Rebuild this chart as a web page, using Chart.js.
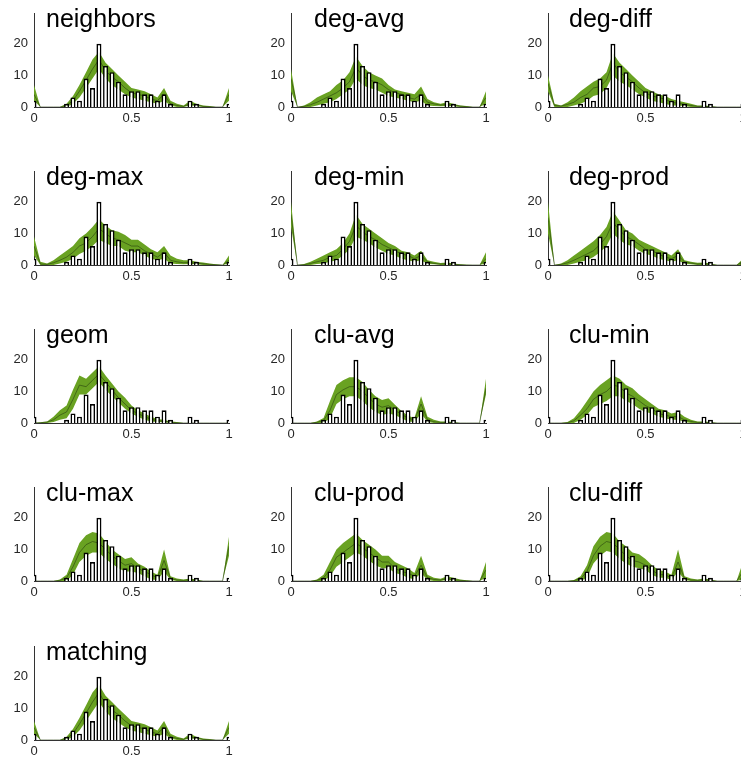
<!DOCTYPE html>
<html>
<head>
<meta charset="utf-8">
<script src="https://cdn.jsdelivr.net/npm/chart.js@4"></script>
<style>
html, body { margin: 0; padding: 0; background: #fff; overflow: hidden; width: 741px; height: 761px; }
canvas { position: absolute; }
</style>
</head>
<body>
<script>
// shared histogram (bin centres and counts)
const binCenters = [0, 0.033, 0.067, 0.1, 0.133, 0.167, 0.2, 0.233, 0.267, 0.3, 0.333, 0.367, 0.4, 0.433, 0.467, 0.5,
  0.533, 0.567, 0.6, 0.633, 0.667, 0.7, 0.733, 0.767, 0.8, 0.833, 0.867, 0.9, 0.933, 0.967, 1];
const counts = [2, 0, 0, 0, 0, 1, 3, 2, 9, 6, 20, 13, 11, 8, 4, 5, 5, 4, 4, 2, 4, 1, 0, 0, 2, 1, 0, 0, 0, 0, 1];
const xTicks = [0, 0.5, 1];
const yTicks = [0, 10, 20];

const panelNames = ['neighbors', 'deg-avg', 'deg-diff', 'deg-max', 'deg-min', 'deg-prod', 'geom',
  'clu-avg', 'clu-min', 'clu-max', 'clu-prod', 'clu-diff', 'matching'];

// model bands: low / mean / high at each bin centre
const neighborsLow  = [2, 0, 0, 0, 0, 0, 1, 3, 6, 9, 12, 9, 7, 5.5, 4, 3, 2.5, 2, 1.5, 1, 2, 0.5, 0, 0, 0.5, 0.3, 0, 0, 0, 0, 2];
const neighborsMean = [4, 0, 0, 0, 0, 0.5, 2, 5, 8.5, 12, 15, 11.5, 9.5, 8, 6, 4.5, 4, 3.5, 2.5, 2, 4, 1, 0.5, 0.2, 1, 0.6, 0.2, 0.1, 0, 0, 4];
const neighborsHigh = [7, 0, 0, 0, 0, 1, 3.5, 7, 11, 15, 17.5, 14, 12, 10, 8, 6, 5.5, 5, 4, 3, 6, 2, 1, 0.5, 2, 1, 0.5, 0.3, 0, 0, 6];

const degAvgLow  = [5, 0, 0, 0, 0.5, 1, 1.5, 2.5, 4, 5.5, 9, 7, 6, 5.5, 4.5, 3.5, 3, 2.5, 2, 1.5, 2, 0.5, 0.3, 0.2, 0.3, 0.2, 0, 0, 0, 0, 1];
const degAvgMean = [9, 0, 0.2, 0.7, 1.5, 2.5, 3.5, 4.5, 6, 8, 12.5, 10, 8.5, 8, 7, 5.5, 4.5, 4, 3, 2.5, 4, 1.5, 1, 0.6, 0.8, 0.5, 0.3, 0.1, 0, 0, 3];
const degAvgHigh = [12, 0, 0.5, 1.5, 3, 4, 5, 7, 8.5, 11, 16, 13, 11, 10, 9, 7, 5.5, 5, 4.5, 4, 6.5, 2.5, 1.5, 1, 1.5, 1, 0.5, 0.3, 0, 0, 5];

const degDiffLow  = [5, 0, 0, 0, 0.5, 1, 2, 3.5, 4, 6, 10, 8, 7, 5.5, 4, 3, 2, 1.5, 1, 0.5, 0.5, 0.3, 0, 0, 0, 0, 0, 0, 0, 0, 0];
const degDiffMean = [7.5, 0.5, 0.3, 0.8, 1.5, 3, 4, 6, 6.5, 8.5, 14, 11, 9.5, 8, 6, 4.5, 3.5, 3, 2.5, 1.5, 1.2, 0.8, 0.5, 0.2, 0.2, 0.1, 0, 0, 0, 0, 0];
const degDiffHigh = [10, 1, 0.5, 1.5, 3, 5, 6.5, 8, 9, 11, 17, 14, 12, 10, 8, 6, 5, 4, 3.5, 2.5, 2, 1.5, 1, 0.5, 0.5, 0.3, 0, 0, 0, 0, 0];

const degMaxLow  = [3, 0, 0, 0, 0.5, 1, 2, 3.5, 4.5, 6, 8, 7, 6, 6, 4.5, 4, 4, 3, 2, 1.5, 2, 0.5, 0.3, 0.2, 0.3, 0.2, 0, 0, 0, 0, 0.5];
const degMaxMean = [6, 0.3, 0.2, 0.7, 1.5, 2.5, 4, 6, 7, 9, 11.5, 10, 8.5, 8, 7, 6, 6, 4.5, 3.5, 2.5, 4, 1.5, 1, 0.7, 0.8, 0.5, 0.4, 0.2, 0.1, 0, 1.5];
const degMaxHigh = [9, 1, 0.5, 1.5, 3, 4.5, 6, 8.5, 10, 12, 14.5, 12.5, 11, 10.5, 9.5, 8, 8, 6.5, 5, 4, 6, 3, 2, 1.5, 1.5, 1, 0.8, 0.5, 0.2, 0, 3];

const degMinLow  = [12, 0, 0, 0, 0.3, 0.5, 1, 1.5, 3, 5, 9, 8, 7, 5.5, 4.5, 3.5, 3, 2, 1.5, 1, 1.5, 0.3, 0.2, 0, 0, 0, 0, 0, 0, 0, 0.5];
const degMinMean = [16, 0, 0.1, 0.5, 1, 1.5, 2.5, 3, 5, 7.5, 12.5, 10.5, 9, 8, 6.5, 5.5, 4.5, 3.5, 3, 2, 3, 1, 0.5, 0.3, 0.4, 0.2, 0.1, 0, 0, 0, 2];
const degMinHigh = [20, 0, 0.3, 1, 2, 3, 4, 5, 7, 10, 16, 13, 11.5, 10, 8.5, 7, 6, 4.5, 4, 3, 4.5, 1.5, 1, 0.6, 0.8, 0.5, 0.2, 0.1, 0, 0, 4];

const degProdLow  = [10, 0, 0, 0, 0.5, 1, 1.5, 2.5, 4, 6, 10, 8, 6.5, 6, 4.5, 3.5, 3, 2, 1.5, 1, 1.5, 0.3, 0.2, 0, 0, 0, 0, 0, 0, 0, 0];
const degProdMean = [15, 0, 0.2, 0.7, 1.5, 2.5, 3.5, 4.5, 6.5, 9, 13.5, 11, 9, 8, 6.5, 5, 4.5, 3.5, 2.5, 2, 3, 1, 0.6, 0.3, 0.4, 0.2, 0, 0, 0, 0, 1];
const degProdHigh = [20, 0, 0.5, 1.5, 3, 4.5, 6, 7.5, 9.5, 12, 17, 14, 11, 10, 8, 7, 6, 5, 4, 3, 5, 1.5, 1, 0.7, 0.8, 0.5, 0, 0, 0, 0, 2];

const geomLow  = [0, 0, 0, 0.3, 1, 1.5, 4.5, 9, 9, 11, 13, 10.5, 8.5, 6.5, 4.5, 3, 2, 1, 0.5, 0.3, 0.2, 0, 0, 0, 0, 0, 0, 0, 0, 0, 0];
const geomMean = [0, 0.1, 0.3, 1, 2.5, 3.5, 7.5, 12, 11.5, 13.5, 15.5, 13, 10.5, 8, 6, 4, 3, 2, 1.2, 0.8, 0.5, 0.3, 0.1, 0, 0, 0, 0, 0, 0, 0, 0];
const geomHigh = [0, 0.2, 0.5, 2, 4, 5.5, 10.5, 15, 14, 16, 18, 15, 12.5, 10, 8, 5.5, 4, 3, 2, 1.3, 1, 0.5, 0.3, 0, 0, 0, 0, 0, 0, 0, 0];

const cluAvgLow  = [0, 0, 0, 0, 0, 0, 1.5, 6, 7.5, 8.5, 8.5, 7, 5, 3.5, 2.5, 3, 2.5, 1.5, 0.5, 0.3, 3, 0.3, 0, 0, 0, 0, 0, 0, 0, 0, 9];
const cluAvgMean = [0, 0, 0, 0, 0.2, 0.8, 4, 9, 10.5, 11.5, 11.5, 10, 8, 6, 5, 5.5, 4, 2.8, 1.5, 1, 6, 1, 0.4, 0.2, 0.2, 0.1, 0, 0, 0, 0, 11];
const cluAvgHigh = [0, 0, 0, 0, 0.5, 1.6, 7, 12, 13.5, 14.5, 14.5, 13, 10.5, 8.5, 7.3, 7.8, 5.8, 3.8, 2.3, 1.6, 8.5, 2, 1, 0.5, 0.5, 0.3, 0, 0, 0, 0, 14];

const cluMinLow  = [0, 0, 0, 0, 0, 1, 2.5, 5, 6, 7, 8.5, 8.5, 7, 6, 4.5, 3.5, 3, 2, 1.5, 1, 1, 0.3, 0, 0, 0, 0, 0, 0, 0, 0, 0];
const cluMinMean = [0, 0, 0, 0.1, 0.7, 2.5, 4.5, 7.5, 9, 10, 12, 11.5, 9.5, 8.5, 7, 5.5, 4.5, 3, 2.5, 2, 2, 1, 0.5, 0.2, 0.2, 0.1, 0, 0, 0, 0, 0];
const cluMinHigh = [0, 0, 0, 0.3, 1.5, 4, 7, 10, 12, 13.5, 15, 14, 12, 11, 9, 7.5, 6, 4.5, 4, 3, 3.5, 2, 1, 0.5, 0.5, 0.3, 0, 0, 0, 0, 0];

const cluMaxLow  = [0, 0, 0, 0, 0, 0, 2, 6, 8, 9, 9, 7, 5.5, 4, 3, 3, 2.5, 1.5, 0.5, 0.3, 3, 0.3, 0, 0, 0, 0, 0, 0, 0, 0, 8];
const cluMaxMean = [0, 0, 0, 0, 0.2, 1, 4.5, 9, 11.5, 12.5, 12, 10, 8, 6.5, 5, 5.5, 4, 3, 2, 1, 6.5, 0.8, 0.3, 0.2, 0.4, 0.2, 0, 0, 0, 0, 11];
const cluMaxHigh = [0, 0, 0, 0, 0.5, 2, 7, 12, 14.5, 15.5, 15, 12.5, 10, 8.5, 7, 7.5, 5.5, 4.5, 3, 2, 10, 1.5, 0.8, 0.5, 0.8, 0.5, 0, 0, 0, 0, 14];

const cluProdLow  = [0, 0, 0, 0, 0, 0, 1.5, 4.5, 6, 7.5, 9, 8, 6.5, 5, 4, 4, 2.5, 2, 1, 0.5, 2.5, 0.3, 0, 0, 0.3, 0, 0, 0, 0, 0, 1];
const cluProdMean = [0, 0, 0, 0, 0.2, 1, 3.5, 7.5, 9, 10.5, 12, 10.5, 9, 7.5, 6, 6, 4, 3, 2.5, 1.5, 5, 1, 0.5, 0.3, 0.8, 0.4, 0.2, 0.1, 0, 0, 3.5];
const cluProdHigh = [0, 0, 0, 0, 0.5, 2, 6, 10, 12, 13.5, 15, 13, 11.5, 10, 8, 8, 6, 5, 4, 2.5, 8, 2, 1, 0.7, 1.5, 1, 0.5, 0.2, 0, 0, 6];

const cluDiffLow  = [0, 0, 0, 0, 0, 0, 1, 5.5, 8, 9.5, 9, 7, 5.5, 4.5, 4, 3.5, 2, 1, 1, 0.3, 3, 0.3, 0, 0, 0, 0, 0, 0, 0, 0, 0.5];
const cluDiffMean = [0, 0, 0, 0, 0.1, 0.7, 3, 8, 11, 12.5, 12, 10, 8, 6.5, 6, 5, 3.5, 2, 2, 1, 6, 0.8, 0.3, 0.2, 0.4, 0.2, 0, 0, 0, 0, 3];
const cluDiffHigh = [0, 0, 0, 0, 0.3, 1.5, 5, 11, 14, 15.5, 15, 12.5, 11, 9, 8.5, 7, 5, 3.5, 3, 2, 10, 1.5, 0.8, 0.5, 0.8, 0.5, 0, 0, 0, 0, 6];

const matchingLow  = [2, 0, 0, 0, 0, 0, 1, 3, 6, 9, 12, 9, 7, 5.5, 4, 3, 2.5, 2, 1.5, 1, 2, 0.5, 0, 0, 0.5, 0.3, 0, 0, 0, 0, 2];
const matchingMean = [4, 0, 0, 0, 0, 0.5, 2, 5, 8.5, 12, 15, 11.5, 9.5, 8, 6, 4.5, 4, 3.5, 2.5, 2, 4, 1, 0.5, 0.2, 1, 0.6, 0.2, 0.1, 0, 0, 4];
const matchingHigh = [6, 0, 0, 0, 0, 1, 3.5, 7, 11, 15, 17.5, 14, 12, 10, 8, 6, 5.5, 5, 4, 3, 6, 2, 1, 0.5, 2, 1, 0.5, 0.3, 0, 0, 6];

const bands = [
  [neighborsLow, neighborsMean, neighborsHigh],
  [degAvgLow, degAvgMean, degAvgHigh],
  [degDiffLow, degDiffMean, degDiffHigh],
  [degMaxLow, degMaxMean, degMaxHigh],
  [degMinLow, degMinMean, degMinHigh],
  [degProdLow, degProdMean, degProdHigh],
  [geomLow, geomMean, geomHigh],
  [cluAvgLow, cluAvgMean, cluAvgHigh],
  [cluMinLow, cluMinMean, cluMinHigh],
  [cluMaxLow, cluMaxMean, cluMaxHigh],
  [cluProdLow, cluProdMean, cluProdHigh],
  [cluDiffLow, cluDiffMean, cluDiffHigh],
  [matchingLow, matchingMean, matchingHigh]
];

// grid layout
const colLeft = [34, 291, 548];
const rowZero = [107, 265, 423, 581, 740];
const titleDx = [12, 23, 21];

const green = '#69a222';
const meanColor = 'rgba(40,65,15,0.75)';
const labelFont = { family: '"Liberation Sans", Arial, sans-serif', size: 13 };

const panelTitle = {
  id: 'panelTitle',
  afterDraw(chart, args, opts) {
    const { ctx, chartArea } = chart;
    ctx.save();
    ctx.font = '25px "Liberation Sans", Arial, sans-serif';
    ctx.fillStyle = '#000';
    ctx.textBaseline = 'alphabetic';
    ctx.fillText(opts.text, chartArea.left + opts.dx, chartArea.bottom - 80);
    ctx.restore();
  }
};

function pts(values) {
  return binCenters.map((x, i) => ({ x: x, y: values[i] }));
}

panelNames.forEach((name, i) => {
  const col = i % 3;
  const row = Math.floor(i / 3);
  const canvas = document.createElement('canvas');
  canvas.width = 240;
  canvas.height = 134;
  canvas.style.left = (colLeft[col] - 34) + 'px';
  canvas.style.top = (rowZero[row] - 107) + 'px';
  canvas.style.width = '240px';
  canvas.style.height = '134px';
  document.body.appendChild(canvas);

  const [low, mean, high] = bands[i];

  new Chart(canvas.getContext('2d'), {
    type: 'bar',
    data: {
      datasets: [
        { type: 'line', data: pts(low), borderColor: 'rgba(0,0,0,0)', borderWidth: 0, pointRadius: 0, fill: false, order: 3 },
        { type: 'line', data: pts(high), borderColor: 'rgba(0,0,0,0)', borderWidth: 0, pointRadius: 0, fill: '-1', backgroundColor: green, order: 2 },
        { type: 'line', data: pts(mean), borderColor: meanColor, borderWidth: 0.8, pointRadius: 0, fill: false, order: 1 },
        { type: 'bar', data: pts(counts), backgroundColor: '#fff', borderColor: '#000', borderWidth: 1.6,
          barPercentage: 0.78, categoryPercentage: 1, order: 0 }
      ]
    },
    options: {
      responsive: false,
      animation: false,
      layout: { padding: { top: 12, right: 11, bottom: 3, left: 0 } },
      scales: {
        x: {
          type: 'linear', min: 0, max: 1, offset: false,
          grid: { display: false, drawTicks: false, offset: false },
          border: { color: '#333', width: 1 },
          afterBuildTicks: s => { s.ticks = xTicks.map(v => ({ value: v })); },
          afterFit: s => { s.height = 24; },
          ticks: { padding: 4, color: '#262626', font: labelFont, maxRotation: 0, autoSkip: false, callback: v => String(v) }
        },
        y: {
          min: 0, max: 29.5,
          grid: { display: false, drawTicks: false },
          border: { color: '#333', width: 1 },
          afterBuildTicks: s => { s.ticks = yTicks.map(v => ({ value: v })); },
          afterFit: s => { s.width = 34; },
          ticks: { padding: 6, color: '#262626', font: labelFont, callback: v => String(v) }
        }
      },
      plugins: {
        legend: { display: false },
        tooltip: { enabled: false },
        panelTitle: { text: name, dx: titleDx[col] }
      }
    },
    plugins: [panelTitle]
  });
});
</script>
</body>
</html>
